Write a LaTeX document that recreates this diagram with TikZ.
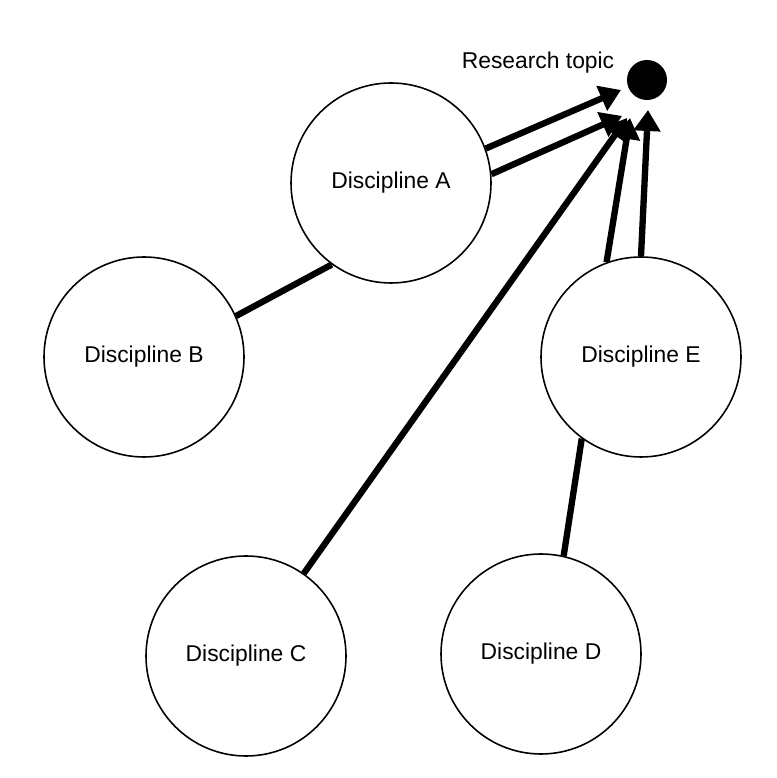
\documentclass[tikz,border=0pt]{standalone}
\usepackage{fontspec}
\setmainfont{Liberation Sans}
\usetikzlibrary{arrows.meta}

\tikzset{
  discipline/.style={draw, circle, minimum size=4cm, line width=0.9pt, fill=white, font=\fontsize{13}{15}\selectfont},
  link/.style={line width=3.6pt},
  feed/.style={link, -{Triangle[length=0.42cm, width=0.52cm]}, shorten >=0pt}
}

\begin{document}
\begin{tikzpicture}
        \useasboundingbox (0,0) rectangle (15.52,15.56);
        % Research topic
        \node[circle, fill=black, minimum size=0.8cm, inner sep=0pt] (topic) at (12.94,13.96) {};
        \node[font=\fontsize{13}{15}\selectfont] (topiclabel) at (10.76,14.30) {Research topic};
        
        % Disciplines
        \node[discipline] (A) at (7.82,11.90) {Discipline A};
        \node[discipline] (B) at (2.88,8.42) {Discipline B};
        \node[discipline] (C) at (4.92,2.44) {Discipline C};
        \node[discipline] (D) at (10.82,2.48) {Discipline D};
        \node[discipline] (E) at (12.82,8.42) {Discipline E};
        
        % Arrow ends near the topic
        \coordinate (tipA1) at (12.42,13.76);
        \coordinate (tipA2) at (12.44,13.24);
        \coordinate (tipC) at (12.54,13.20);
        \coordinate (tipE1) at (12.60,13.20);
        \coordinate (tipE2) at (12.96,13.36);
        
        % Links between disciplines
        \draw[link] (B.24) -- (A.234);
        \draw[link] (D.77) -- (E.234);
        
        % Contributions to the topic
        \draw[feed] (A.20) -- (tipA1);
        \draw[feed] (A.5) -- (tipA2);
        \draw[feed] (C.55) -- (tipC);
        \draw[feed] (E.110) -- (tipE1);
        \draw[feed] (E.90) -- (tipE2);
    \end{tikzpicture}
\end{document}
